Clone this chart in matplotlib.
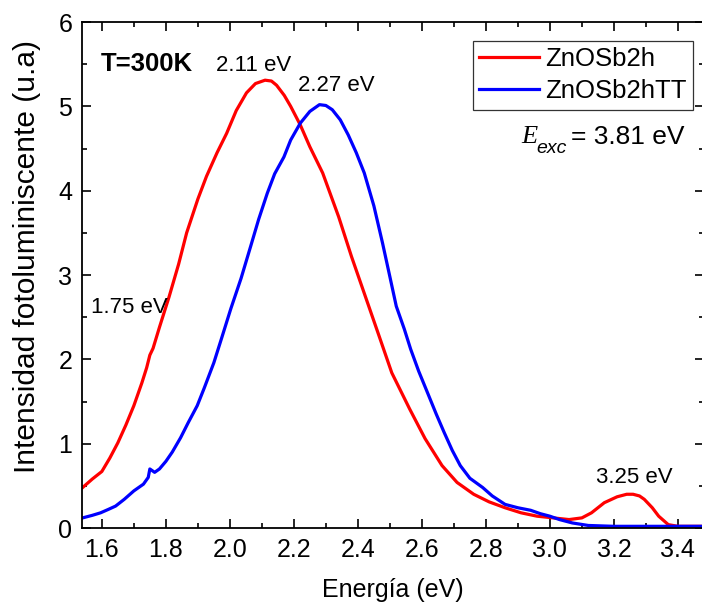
import numpy as np
import matplotlib
matplotlib.use('Agg')
import matplotlib.pyplot as plt
from matplotlib.ticker import MultipleLocator

plt.rcParams['font.family'] = ['Liberation Sans', 'DejaVu Sans']

# ZnOSb2h (red)
e_red = [1.54, 1.57, 1.60, 1.625, 1.65, 1.675, 1.70, 1.725, 1.74, 1.75, 1.76, 1.78, 1.81,
         1.84, 1.865, 1.90, 1.927, 1.96, 1.99, 2.02, 2.052, 2.08, 2.11, 2.13, 2.146, 2.17,
         2.19, 2.22, 2.25, 2.29, 2.34, 2.38, 2.434, 2.466, 2.506, 2.562, 2.61, 2.663,
         2.71, 2.762, 2.81, 2.86, 2.91, 2.96, 3.01, 3.06, 3.10, 3.13, 3.17, 3.21, 3.24,
         3.26, 3.28, 3.295, 3.32, 3.34, 3.37, 3.40, 3.44, 3.48]
i_red = [0.48, 0.58, 0.67, 0.83, 1.01, 1.22, 1.45, 1.72, 1.90, 2.05, 2.13, 2.38, 2.74,
         3.13, 3.50, 3.90, 4.17, 4.45, 4.68, 4.95, 5.16, 5.27, 5.31, 5.30, 5.25, 5.13,
         5.00, 4.78, 4.52, 4.21, 3.69, 3.22, 2.63, 2.28, 1.84, 1.41, 1.06, 0.74,
         0.54, 0.40, 0.31, 0.24, 0.18, 0.14, 0.12, 0.10, 0.12, 0.18, 0.30, 0.37, 0.40,
         0.40, 0.38, 0.34, 0.24, 0.14, 0.04, 0.02, 0.02, 0.02]

# ZnOSb2hTT (blue)
e_blue = [1.54, 1.57, 1.596, 1.62, 1.643, 1.67, 1.70, 1.73, 1.745, 1.75, 1.765, 1.78, 1.80,
          1.82, 1.846, 1.87, 1.898, 1.92, 1.95, 1.975, 2.003, 2.035, 2.065, 2.09, 2.117,
          2.14, 2.169, 2.19, 2.22, 2.25, 2.28, 2.30, 2.32, 2.345, 2.37, 2.395, 2.42,
          2.45, 2.477, 2.50, 2.52, 2.545, 2.565, 2.59, 2.617, 2.645, 2.67, 2.695, 2.72,
          2.75, 2.79, 2.82, 2.86, 2.90, 2.94, 2.97, 3.00, 3.03, 3.07, 3.12, 3.20, 3.30,
          3.40, 3.48]
i_blue = [0.12, 0.15, 0.18, 0.22, 0.26, 0.34, 0.44, 0.52, 0.60, 0.70, 0.66, 0.70, 0.79,
          0.90, 1.07, 1.25, 1.45, 1.66, 1.96, 2.26, 2.60, 2.96, 3.34, 3.66, 3.97,
          4.20, 4.40, 4.60, 4.80, 4.94, 5.02, 5.01, 4.96, 4.84, 4.66, 4.45, 4.21,
          3.82, 3.38, 2.98, 2.63, 2.36, 2.12, 1.86, 1.61, 1.35, 1.13, 0.92, 0.74,
          0.59, 0.48, 0.38, 0.28, 0.24, 0.21, 0.17, 0.14, 0.10, 0.06, 0.03, 0.02, 0.02,
          0.02, 0.02]

fig = plt.figure(figsize=(7.02, 6.12), dpi=100)
ax = fig.add_axes([82/702, 84/612, 621.5/702, 506/612])

ax.plot(e_red, i_red, color='#ff0000', lw=2.3, label='ZnOSb2h')
ax.plot(e_blue, i_blue, color='#0000ff', lw=2.3, label='ZnOSb2hTT')

ax.set_xlim(1.538, 3.480)
ax.set_ylim(0, 6)
ax.xaxis.set_major_locator(MultipleLocator(0.2))
ax.xaxis.set_minor_locator(MultipleLocator(0.1))
ax.yaxis.set_major_locator(MultipleLocator(1))
ax.yaxis.set_minor_locator(MultipleLocator(0.5))
ax.xaxis.set_major_formatter(plt.FormatStrFormatter('%.1f'))
ax.tick_params(which='both', direction='in', top=True, right=True, width=1.2)
ax.tick_params(which='major', length=6.5, labelsize=18, pad=7)
ax.tick_params(which='minor', length=3.5)
for s in ax.spines.values():
    s.set_linewidth(1.3)

ax.set_xlabel('Energía (eV)', fontsize=18, labelpad=12)
ax.set_ylabel('Intensidad fotoluminiscente (u.a)', fontsize=21.5)
ax.yaxis.set_label_coords(-0.088, 0.5375)
ax.yaxis.label.set_verticalalignment('center')

leg = ax.legend(loc='upper right', bbox_to_anchor=(0.983, 0.9625), fontsize=18.5,
                frameon=True, fancybox=False, edgecolor='black', handlelength=2.3,
                handletextpad=0.25, borderpad=0.25, labelspacing=0.3, borderaxespad=0)
leg.get_frame().set_linewidth(0.9)

ax.text(1.597, 5.5, 'T=300K', fontsize=18.5, fontweight='bold', va='center')
ax.text(2.074, 5.48, '2.11 eV', fontsize=16, ha='center', va='center')
ax.text(2.333, 5.25, '2.27 eV', fontsize=16, ha='center', va='center')
ax.text(1.566, 2.62, '1.75 eV', fontsize=16, ha='left', va='center')
ax.text(3.263, 0.60, '3.25 eV', fontsize=16, ha='center', va='center')
ax.text(2.910, 4.64, 'E', fontsize=19, ha='left', va='center',
        family='Liberation Serif', style='italic')
ax.text(2.958, 4.50, 'exc', fontsize=14, ha='left', va='center', style='italic')
ax.text(3.066, 4.64, '= 3.81 eV', fontsize=19, ha='left', va='center')

fig.savefig('out.png', dpi=100)
